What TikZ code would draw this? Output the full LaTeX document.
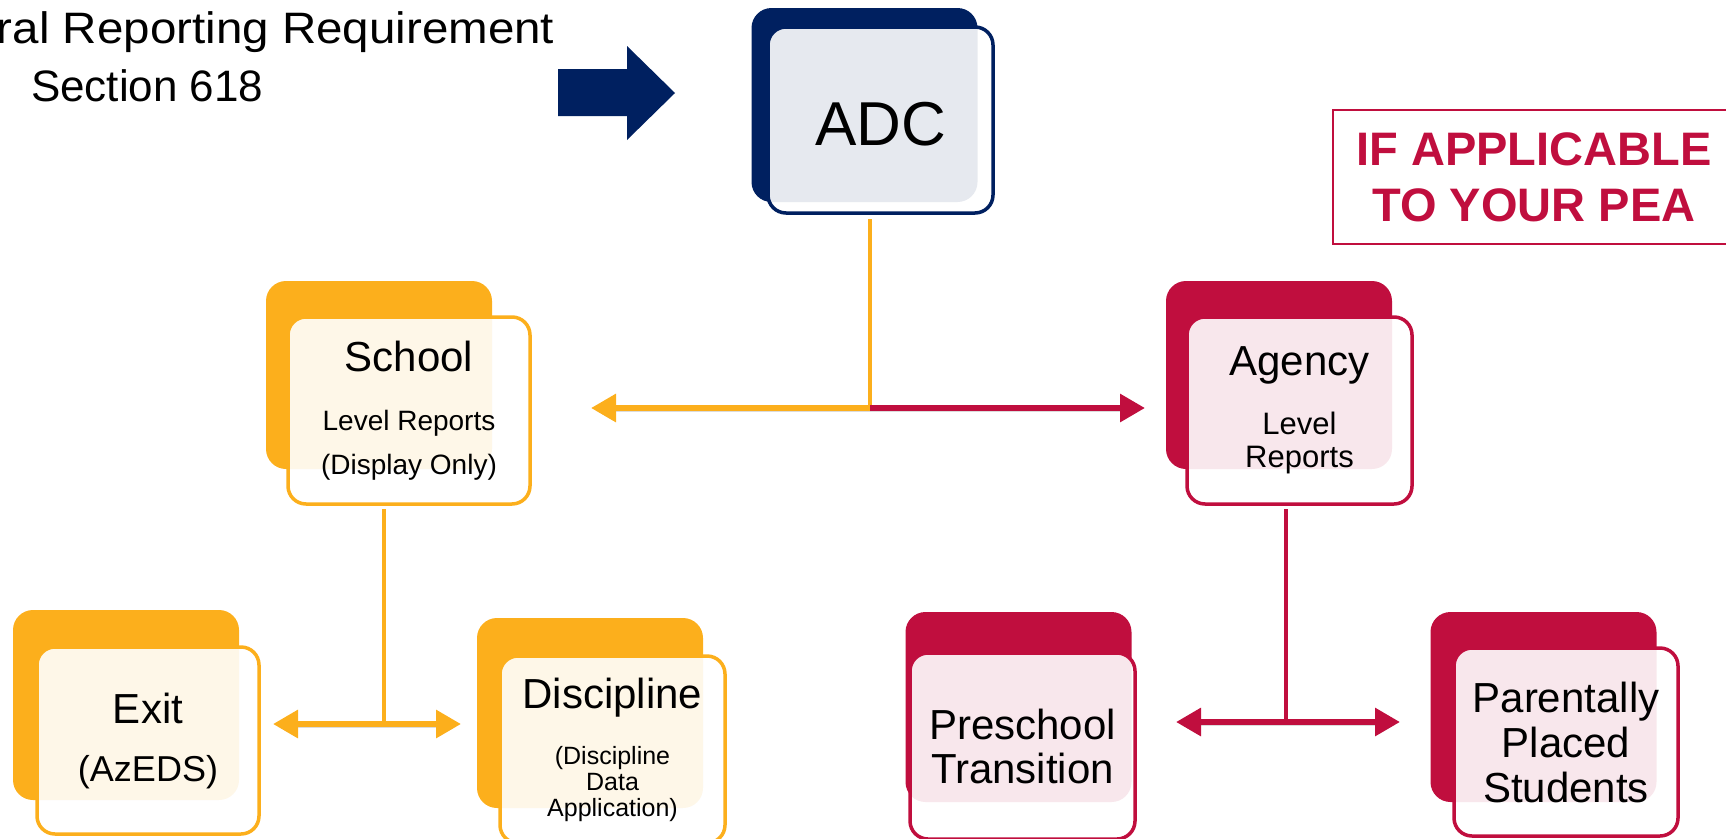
\documentclass[tikz,border=0pt]{standalone}
\usepackage{fontspec}
\setmainfont{Liberation Sans}
\newfontfamily\widesans[FakeStretch=1.08]{Liberation Sans}
\usetikzlibrary{positioning,arrows.meta}
\definecolor{adcblue}{RGB}{0,32,96}
\definecolor{schoolorange}{RGB}{252,175,28}
\definecolor{agencyred}{RGB}{192,14,62}
\newcommand{\boxfont}[2]{\fontsize{#1}{#2}\selectfont}
\tikzset{
diagrampic/.style={
  x=1pt,y=-1pt
    ,inner sep=0pt
    ,outer sep=0pt
}
,reqtext/.style={font=\boxfont{44}{58},text=black}
,backbox/.style={rectangle,rounded corners=20pt
  ,minimum width=226pt,minimum height=190pt}
,frontbox/.style={rectangle,rounded corners=18pt,line width=3.5pt
  ,fill=white,fill opacity=.9,text opacity=1
  ,text=black,align=center
  ,minimum width=225pt,minimum height=187pt}
,adcback/.style={backbox,fill=adcblue}
,adcfront/.style={frontbox,draw=adcblue}
,schoolback/.style={backbox,fill=schoolorange}
,schoolfront/.style={frontbox,draw=schoolorange}
,agencyback/.style={backbox,fill=agencyred}
,agencyfront/.style={frontbox,draw=agencyred}
,peanote/.style={draw=agencyred,line width=2pt,text=agencyred
  ,font=\bfseries\boxfont{47}{56},align=center
  ,minimum width=402pt,minimum height=134pt}
,riser/.style={line width=4.5pt}
,spread/.style={line width=6pt
  ,preaction={draw=black,opacity=.14,transform canvas={yshift=-3pt}}}
,bigtip/.tip={Triangle[length=25pt,width=27pt]}
}

\begin{document}
\begin{tikzpicture}[diagrampic]
  \useasboundingbox (0,0) rectangle (1726,838);
  \clip (0,0) rectangle (1726,838);
  % requirement
  \node[reqtext,anchor=base west] (reqline) at (-3,43) {\widesans ral Reporting Requirement};
  \node[reqtext,anchor=base west] (secline) at (31,101) {Section 618};
  \fill[adcblue] (558,69) -- (627,69) -- (627,46) -- (675,93)
    -- (627,140) -- (627,116) -- (558,116) -- cycle;
  % adc
  \node[adcback] (adcback) at (864.5,105) [minimum height=194pt] {};
  \node[adcfront] (adcfront) at (880.5,120) [minimum height=186pt]
    {\boxfont{62}{70}\raisebox{-4pt}[\height][\depth]{ADC}};
  % note
  \node[peanote] (pea) at (1534,177) {IF APPLICABLE\\TO YOUR PEA};
  % school
  \node[schoolback] (schoolback) at (379,375) [minimum height=188pt] {};
  \node[schoolfront,font=\boxfont{28}{44}] (schoolfront) at (409,410.5)
    [minimum width=242pt] {{\boxfont{42}{44}School}\\[15pt]Level Reports\\(Display Only)};
  % agency
  \node[agencyback] (agencyback) at (1279,375) [minimum height=188pt] {};
  \node[agencyfront,font=\boxfont{31}{33}] (agencyfront) at (1299.5,410.5)
    {{\boxfont{42}{44}Agency}\\[26pt]Level\\Reports};
  % exit
  \node[schoolback] (exitback) at (126,705) {};
  \node[schoolfront,font=\boxfont{36}{58}] (exitfront) at (148,740.5)
    [minimum width=222pt] {{\boxfont{42}{44}Exit}\\(AzEDS)};
  % discipline
  \node[schoolback] (discipback) at (590,713) {};
  \node[schoolfront,font=\boxfont{25}{26}] (discipfront) at (612.5,749.5)
    {{\boxfont{42}{44}Discipline}\\[28pt](Discipline\\Data\\Application)};
  % preschool
  \node[agencyback] (preback) at (1018.5,707) {};
  \node[agencyfront,font=\boxfont{42}{44}] (prefront) at (1022.5,746)
    [minimum height=186pt] {Preschool\\Transition};
  % parentally placed
  \node[agencyback] (parentback) at (1543.5,707) {};
  \node[agencyfront,font=\boxfont{42}{45}] (parentfront) at (1566,742)
    [minimum width=224pt,minimum height=188pt] {Parentally\\Placed\\Students};
  % connectors
  \coordinate (adcsplit) at (870,408);
  \coordinate (schooltip) at (591,408);
  \coordinate (agencytip) at (1145,408);
  \draw[riser,schoolorange,shorten <=6pt] (adcfront.south -| adcsplit) -- (adcsplit);
  \draw[spread,schoolorange,-bigtip] (adcsplit) -- (schooltip);
  \draw[spread,agencyred,-bigtip] (adcsplit) -- (agencytip);
  \coordinate (schoolsplit) at (384,724);
  \coordinate (exittip) at (273,724);
  \coordinate (disciptip) at (461,724);
  \draw[riser,schoolorange,shorten <=5pt] (schoolfront.south -| schoolsplit) -- (schoolsplit);
  \draw[spread,schoolorange,bigtip-bigtip] (exittip) -- (disciptip);
  \coordinate (agencysplit) at (1286,722);
  \coordinate (pretip) at (1176,722);
  \coordinate (parenttip) at (1400,722);
  \draw[riser,agencyred,shorten <=5pt] (agencyfront.south -| agencysplit) -- (agencysplit);
  \draw[spread,agencyred,bigtip-bigtip] (pretip) -- (parenttip);
\end{tikzpicture}
\end{document}
